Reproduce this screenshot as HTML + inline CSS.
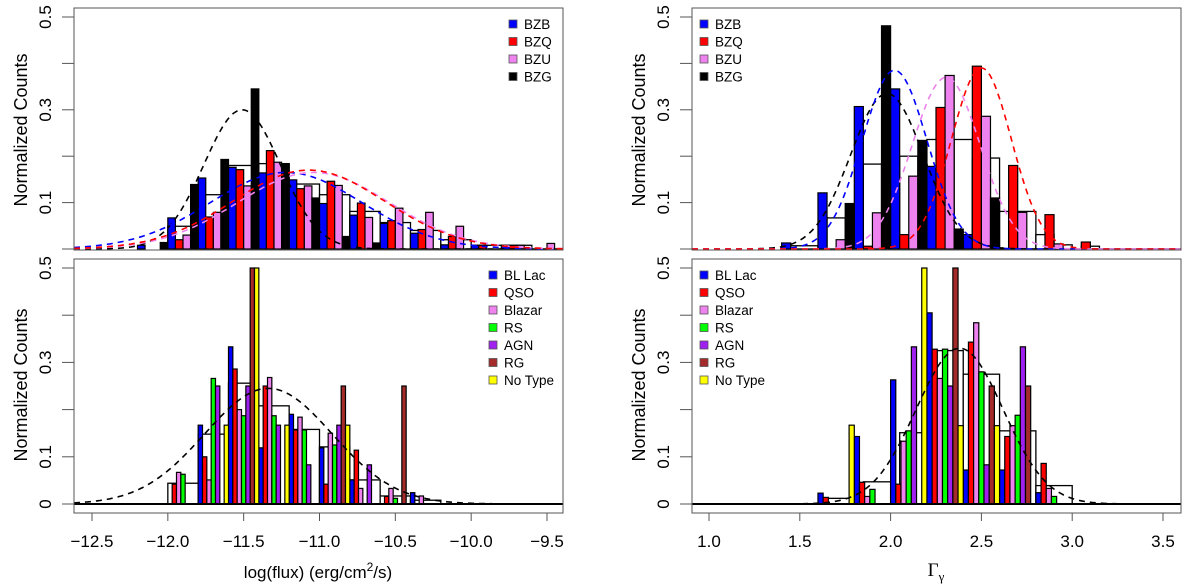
<!DOCTYPE html>
<html><head><meta charset="utf-8"><style>
body{margin:0;background:#fff}
svg{display:block;font-family:"Liberation Sans",sans-serif}
</style></head><body>
<svg id="c" width="1200" height="584" viewBox="0 0 1200 584" xmlns="http://www.w3.org/2000/svg"></svg>
<script>
// ---------- data ----------
const tlStarts = [-12.2, -12.15, -12.1, -12.05];
const tlBZB = [.008,.067,.153,.176,.164,.149,.098,.073,.055,.034,.009,.008,.008];
const tlBZQ = [0,.02,.069,.171,.212,.13,.146,.099,.061,.042,.027,.008,.008];
const tlBZU = [0,.03,.079,.136,.187,.136,.137,.068,.088,.079,.049,0,.008,.012];
const tlBZG = [.014,.139,.193,.345,.184,.11,.027,.013];
const tlTotal = [[-12.0,-11.8,.049],[-11.8,-11.6,.117],[-11.6,-11.4,.18],[-11.4,-11.2,.184],[-11.2,-11.0,.14],[-11.0,-10.8,.117],[-10.8,-10.6,.081],[-10.6,-10.4,.057],[-10.4,-10.2,.04],[-10.2,-10.0,.02],[-10.0,-9.8,.008],[-9.8,-9.6,.008]];
const tlFits = [[-11.51,.252,.30,'#000'],[-11.22,.5,.165,'#0000ff'],[-11.04,.5,.165,'#ee82ee'],[-11.07,.5,.17,'#ff0000']];
const trStarts = [1.4, 1.45, 1.5, 1.55];
const trBZB = [.013,.121,.307,.345,.178,.031,0];
const trBZQ = [0,0,.006,.031,.305,.394,.18,.074,.015];
const trBZU = [0,.02,.078,.157,.374,.286,.079,.011];
const trBZG = [0,.098,.481,.234,.043,.11];
const trTotal = [[1.45,1.6,.007],[1.65,1.75,.067],[1.85,1.95,.183],[2.05,2.15,.2],[2.2,2.3,.236],[2.35,2.45,.236],[2.45,2.5,.194],[2.55,2.6,.196],[2.6,2.65,.081],[2.7,2.8,.081],[2.8,2.9,.031],[2.9,3.0,.009],[3.05,3.15,.006]];
const trFits = [[1.98,.2,.335,'#000'],[2.022,.179,.385,'#0000ff'],[2.306,.187,.37,'#ee82ee'],[2.5,.165,.39,'#ff0000']];
const blStart = -12.0;
const blBLLac = [0,.167,.333,.119,.19,.119,.051,0,.024];
const blQSO = [.042,.1,.286,.25,.157,.042,.114,.016,0];
const blBlazar = [.067,.051,.2,.268,.184,.15,.033,.033,.017];
const blRS = [.063,.266,.187,.187,.157,.125,0,.012,0];
const blAGN = [0,.25,.25,.167,.083,.167,.083,0,0];
const blRG = [0,0,.5,0,0,.25,0,.25,0];
const blNoType = [0,.167,.5,.167,0,.167,0,0,0];
const blTotal = [[-12.0,-11.8,.044],[-11.8,-11.6,.148],[-11.6,-11.4,.256],[-11.4,-11.2,.208],[-11.2,-11.0,.158],[-11.0,-10.8,.121],[-10.8,-10.6,.051],[-10.6,-10.4,.017],[-10.4,-10.2,.008]];
const blFits = [[-11.337,.42,.245,'#000']];
const brStart = 1.6;
const brBLLac = [.023,.143,.263,.405,.072,.072,.024];
const brQSO = [.014,.046,.042,.328,.343,.143,.086];
const brBlazar = [0,.016,.133,.266,.384,.166,.033];
const brRS = [0,.031,.155,.328,.28,.188,.016];
const brAGN = [0,0,.333,.25,.083,.333,0];
const brRG = [0,0,0,.5,.25,.25,0];
const brNoType = [.167,0,.5,.166,.166,0,0];
const brTotal = [[1.65,1.8,.012],[1.85,2.0,.047],[2.05,2.2,.151],[2.2,2.4,.325],[2.4,2.6,.275],[2.6,2.8,.155],[2.8,3.0,.039]];
const brFits = [[2.38,.24,.33,'#000']];
const xTicksL = [-12.5,-12.0,-11.5,-11.0,-10.5,-10.0,-9.5];
const xTicksR = [1.0,1.5,2.0,2.5,3.0,3.5];
const yTickVals = [0,0.1,0.2,0.3,0.4,0.5];
const classNames = ['BZB','BZQ','BZU','BZG'];
const typeNames = ['BL Lac','QSO','Blazar','RS','AGN','RG','No Type'];
const classColors = ['#0000ff','#ff0000','#ee82ee','#000000'];
const typeColors = ['#0000ff','#ff0000','#ee82ee','#00ff00','#a020f0','#a52a2a','#ffff00'];

// ---------- drawing ----------
const NS='http://www.w3.org/2000/svg';
const svg=document.getElementById('c');
function mk(tag,attrs,parent){const e=document.createElementNS(NS,tag);for(const k in attrs)e.setAttribute(k,attrs[k]);(parent||svg).appendChild(e);return e;}

function panel(id,box,xr,y0,ypx,total,series,starts,step,bw,colors,fits,legend,legX,legY,baseline){
  const g=mk('g',{});
  
  
  const X=v=>box.x0+(v-xr[0])/(xr[1]-xr[0])*(box.x1-box.x0);
  const Y=v=>y0-v*ypx;
  total.forEach(t=>{
    const r=mk('rect',{x:X(t[0]),y:Y(t[2]),width:X(t[1])-X(t[0]),height:Y(0)-Y(t[2]),fill:'#fff',stroke:'#000','stroke-width':1.3},g);
    
    
  });
  series.forEach((s,i)=>{
    s.forEach((v,k)=>{
      if(v<=0)return;
      const x=starts[i]+k*step;
      const r=mk('rect',{x:X(x),y:Y(v),width:X(x+bw)-X(x),height:Y(0)-Y(v),fill:colors[i],stroke:'#000','stroke-width':1.2},g);
      
      
    });
  });
  if(baseline){
    const l=mk('line',{x1:box.x0,x2:box.x1,y1:Y(0),y2:Y(0),stroke:'#000','stroke-width':2},g);
    
    
  }
  fits.forEach(f=>{
    let d='';
    for(let i=0;i<=300;i++){const x=xr[0]+(xr[1]-xr[0])*i/300;const v=f[2]*Math.exp(-0.5*((x-f[0])/f[1])**2);d+=(i?'L':'M')+X(x).toFixed(1)+','+Y(v).toFixed(1);}
    const p=mk('path',{d:d,fill:'none',stroke:f[3],'stroke-width':1.6,'stroke-dasharray':'6,5'},g);
    
    
  });
  const fr=mk('rect',{x:box.x0,y:box.y0,width:box.x1-box.x0,height:box.y1-box.y0,fill:'none',stroke:'#555','stroke-width':1},g);
  
  
  legend.forEach((n,i)=>{
    const yy=legY+i*17.5;
    const s=mk('rect',{x:legX,y:yy-5,width:8,height:8,fill:colors[i],stroke:'#555','stroke-width':0.8},g);
    
    
    const t=mk('text',{x:legX+15,y:yy+4,'font-size':13.5,fill:'#000'},g);
    t.textContent=n;
    
    
  });
  return {X,Y};
}

function yAxis(x0,Y,labels,titleX,tickLabelX,midY){
  yTickVals.forEach(v=>{
    const l=mk('line',{x1:x0-12,x2:x0,y1:Y(v),y2:Y(v),stroke:'#555','stroke-width':1});
    
    
  });
  labels.forEach(v=>{
    const t=mk('text',{x:tickLabelX,y:Y(v),'font-size':17,'text-anchor':'middle',transform:`rotate(-90 ${tickLabelX} ${Y(v)})`});
    t.textContent=v===0?'0':v.toFixed(1);
    
    
  });
  const t=mk('text',{x:titleX,y:midY,'font-size':18,'text-anchor':'middle',transform:`rotate(-90 ${titleX} ${midY})`});
  t.textContent='Normalized Counts';
  
  
}

function xAxis(X,ticks,yb){
  ticks.forEach(v=>{
    const l=mk('line',{x1:X(v),x2:X(v),y1:yb,y2:yb+8,stroke:'#555','stroke-width':1});
    
    
    const t=mk('text',{x:X(v),y:yb+34,'font-size':17,'text-anchor':'middle'});
    t.textContent=(v<0?'\u2212':'')+Math.abs(v).toFixed(1);
    
    
  });
}

const LB={x0:74,x1:563}, RB={x0:692,x1:1181};
const xrL=[-12.5-(92-74)/151.67,-9.5+(563-547)/151.67];
const xrR=[1.0-(709-692)/181.6,3.5+(1181-1163)/181.6];
const tl=panel('top-left-panel',{...LB,y0:8,y1:250},xrL,249,464,tlTotal,[tlBZB,tlBZQ,tlBZU,tlBZG],tlStarts,0.2,0.05,classColors,tlFits,classNames,509,25,false);
const tr=panel('top-right-panel',{...RB,y0:8,y1:250},xrR,249,464,trTotal,[trBZB,trBZQ,trBZU,trBZG],trStarts,0.2,0.05,classColors,trFits,classNames,700,25,false);
const w7=0.2/7; const offL=[0,1,2,3,4,5,6].map(i=>blStart+i*w7); const offR=[0,1,2,3,4,5,6].map(i=>brStart+i*w7);
const bl=panel('bottom-left-panel',{...LB,y0:259,y1:513},xrL,504,472,blTotal,[blBLLac,blQSO,blBlazar,blRS,blAGN,blRG,blNoType],offL,0.2,w7,typeColors,blFits,typeNames,489,276,true);
const br=panel('bottom-right-panel',{...RB,y0:259,y1:513},xrR,504,472,brTotal,[brBLLac,brQSO,brBlazar,brRS,brAGN,brRG,brNoType],offR,0.2,w7,typeColors,brFits,typeNames,700,276,true);

yAxis(74,tl.Y,[0.1,0.3,0.5],27,51,130);
yAxis(74,bl.Y,[0,0.1,0.3,0.5],27,51,385);
yAxis(692,tr.Y,[0.1,0.3,0.5],645,669,130);
yAxis(692,br.Y,[0,0.1,0.3,0.5],645,669,385);
xAxis(bl.X,xTicksL,513);
xAxis(br.X,xTicksR,513);

const xt=mk('text',{x:318,y:578,'font-size':17,'text-anchor':'middle'});
xt.innerHTML='log(flux) (erg/cm<tspan dy="-7" font-size="12">2</tspan><tspan dy="7">/s)</tspan>';


const xt2=mk('text',{x:936,y:576,'font-size':19,'text-anchor':'middle','font-family':'Liberation Serif, serif'});
xt2.innerHTML='\u0393<tspan dy="5" font-size="13">\u03b3</tspan>';


</script>
</body></html>
